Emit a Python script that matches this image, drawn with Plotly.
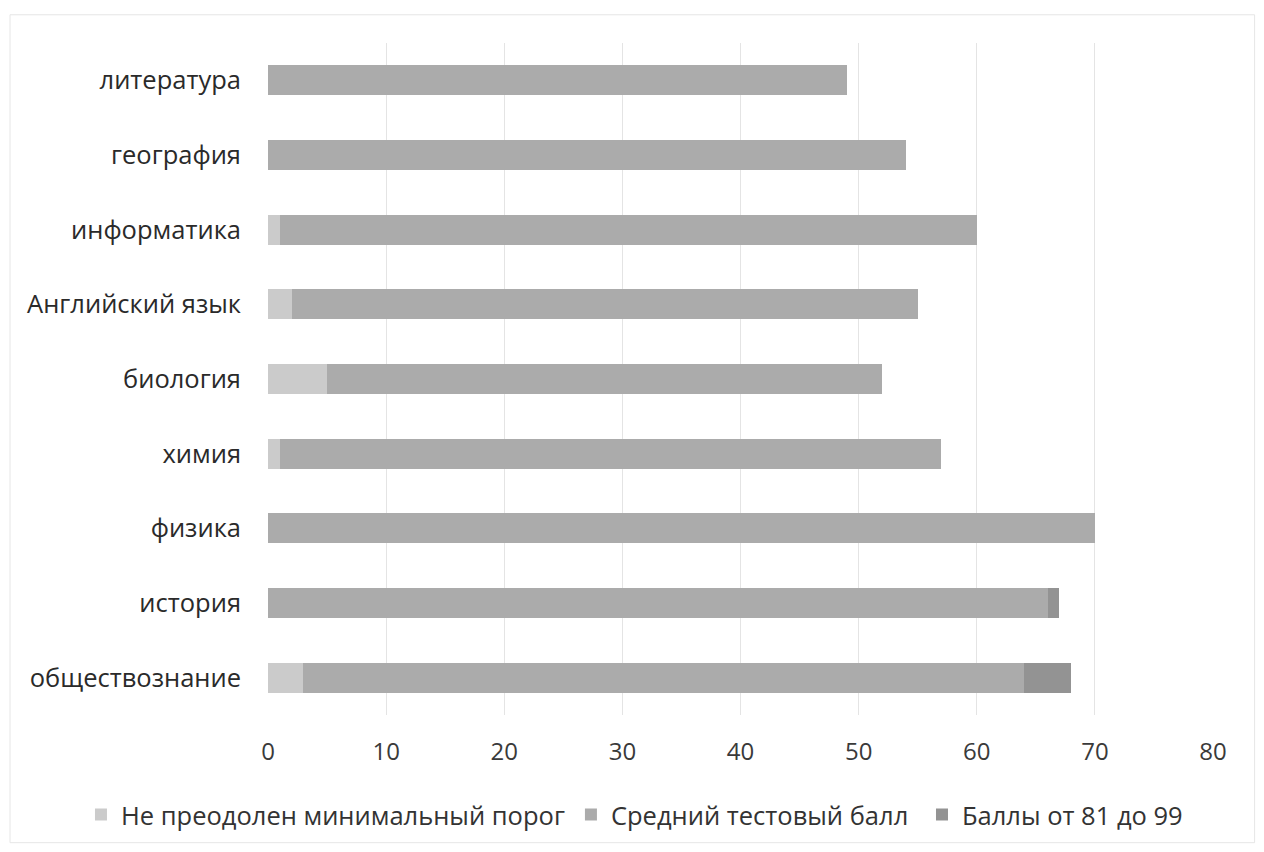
import plotly.graph_objects as go

categories = ["литература", "география", "информатика", "Английский язык", "биология",
              "химия", "физика", "история", "обществознание"]
not_passed = [0, 0, 1, 2, 5, 1, 0, 0, 3]
average = [49, 54, 59, 53, 47, 56, 70, 66, 61]
high = [0, 0, 0, 0, 0, 0, 0, 1, 4]
series_names = ["Не преодолен минимальный порог", "Средний тестовый балл", "Баллы от 81 до 99"]
x_ticks = [0, 10, 20, 30, 40, 50, 60, 70, 80]

colors = ["#cbcbcb", "#ababab", "#939393"]
font_family = "Open Sans, Liberation Sans, sans-serif"
legend_ids = ["legend", "legend2", "legend3"]
legend_x = [0.0581, 0.4482, 0.7277]

fig = go.Figure()
for name, vals, col, lg in zip(series_names, [not_passed, average, high], colors, legend_ids):
    fig.add_trace(go.Bar(
        y=categories, x=vals, name=name, orientation="h",
        marker=dict(color=col, line=dict(width=0)),
        width=0.40, legend=lg, showlegend=True,
    ))

legend_common = dict(orientation="h", xref="container", xanchor="left",
                     yref="container", y=0.0438, yanchor="middle",
                     font=dict(size=25.5, color="#333333"), itemwidth=30,
                     bgcolor="rgba(0,0,0,0)", visible=True)

fig.update_layout(
    barmode="stack",
    showlegend=True,
    width=1256, height=844,
    margin=dict(l=260, r=51, t=35, b=137),
    paper_bgcolor="white", plot_bgcolor="white",
    font=dict(family=font_family, size=25, color="#333333"),
    xaxis=dict(range=[0, 80], tickvals=x_ticks, showgrid=True, gridcolor="#e4e4e4",
               gridwidth=1, zeroline=False, showline=False, ticks="", automargin=False,
               tickfont=dict(size=24, color="#3a3a3a"), ticklabelstandoff=20),
    yaxis=dict(autorange="reversed", showgrid=False, showline=False, ticks="", automargin=False,
               tickfont=dict(size=25.5, color="#2a2a2a"), ticklabelstandoff=26),
    legend=dict(x=legend_x[0], **legend_common),
    legend2=dict(x=legend_x[1], **legend_common),
    legend3=dict(x=legend_x[2], **legend_common),
    bargap=0.6,
    shapes=[dict(type="rect", xref="paper", yref="paper", x0=-0.273, x1=1.044,
                 y0=-0.19, y1=1.042, line=dict(color="#e6e6e6", width=1))],
)

fig.write_html("out.html")
